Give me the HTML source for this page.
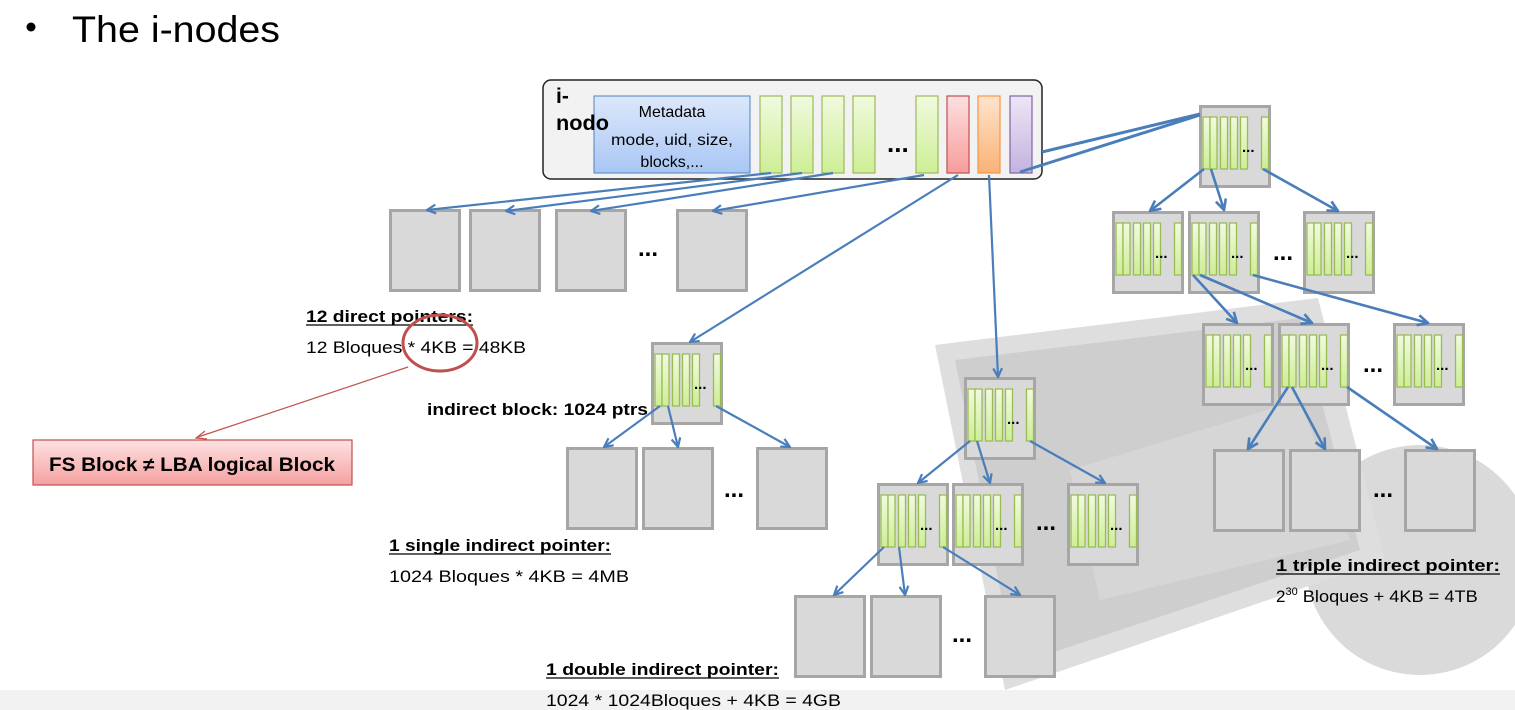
<!DOCTYPE html>
<html><head><meta charset="utf-8"><style>
html,body{margin:0;padding:0;background:#fff;}
svg{display:block;}
text{font-family:"Liberation Sans",sans-serif;}
</style></head><body>
<svg width="1515" height="710" viewBox="0 0 1515 710" xmlns="http://www.w3.org/2000/svg">
<defs>
<linearGradient id="gg" x1="0" y1="0" x2="0" y2="1"><stop offset="0" stop-color="#f1fadf"/><stop offset="1" stop-color="#cdee95"/></linearGradient>
<linearGradient id="bg" x1="0" y1="0" x2="0" y2="1"><stop offset="0" stop-color="#dce8fb"/><stop offset="1" stop-color="#a9c6f5"/></linearGradient>
<linearGradient id="rg" x1="0" y1="0" x2="0" y2="1"><stop offset="0" stop-color="#fde0e0"/><stop offset="1" stop-color="#f79c9c"/></linearGradient>
<linearGradient id="og" x1="0" y1="0" x2="0" y2="1"><stop offset="0" stop-color="#fee4cc"/><stop offset="1" stop-color="#fab277"/></linearGradient>
<linearGradient id="pg" x1="0" y1="0" x2="0" y2="1"><stop offset="0" stop-color="#ede6f6"/><stop offset="1" stop-color="#c4b2df"/></linearGradient>
<linearGradient id="fs" x1="0" y1="0" x2="0" y2="1"><stop offset="0" stop-color="#fde2e2"/><stop offset="1" stop-color="#f5a0a0"/></linearGradient>
<marker id="ar" viewBox="0 0 10 10" refX="9" refY="5" markerWidth="5" markerHeight="5" orient="auto" markerUnits="strokeWidth">
<path d="M1,1 L9,5 L1,9" fill="none" stroke="#4a7ebb" stroke-width="2"/></marker>
<symbol id="pb" viewBox="0 0 72 83" width="72" height="83" overflow="visible">
<rect x="1.5" y="1.5" width="69" height="80" fill="#d9d9d9" stroke="#a6a6a6" stroke-width="3"/>
<g fill="url(#gg)" stroke="#9bbb59" stroke-width="1.3">
<rect x="4" y="12" width="7" height="52"/><rect x="11" y="12" width="7" height="52"/><rect x="21.5" y="12" width="7" height="52"/><rect x="31.5" y="12" width="7" height="52"/><rect x="41.5" y="12" width="7" height="52"/><rect x="62.5" y="12" width="7" height="52"/></g>
</symbol>
<symbol id="db" viewBox="0 0 72 83" width="72" height="83"><rect x="1.5" y="1.5" width="69" height="80" fill="#d9d9d9" stroke="#a6a6a6" stroke-width="3"/></symbol>
</defs>

<!-- background image approximation -->
<circle cx="1420" cy="560" r="115" fill="#dadada"/>
<polygon points="935,345 1318,298 1385,560 1005,690" fill="#dedede"/>
<polygon points="955,360 1300,318 1360,550 1015,665" fill="#cecece"/>
<polygon points="1070,470 1300,400 1350,540 1100,600" fill="#d6d6d6"/>
<rect x="0" y="690" width="1515" height="20" fill="#f2f2f2"/>

<!-- title -->
<circle cx="31" cy="27" r="4.5" fill="#000"/>
<text x="72" y="42" font-size="37" fill="#000" textLength="208" lengthAdjust="spacingAndGlyphs">The i-nodes</text>

<!-- inode -->
<rect x="543" y="80" width="499" height="99" rx="8" fill="#f2f2f2" stroke="#222" stroke-width="1.5"/>
<rect x="594" y="96" width="156" height="77" fill="url(#bg)" stroke="#4f81bd" stroke-width="1"/>
<text x="556" y="103" font-size="21" font-weight="bold">i-</text>
<text x="556" y="130" font-size="21" font-weight="bold" textLength="53" lengthAdjust="spacingAndGlyphs">nodo</text>
<text x="672" y="117" font-size="16" text-anchor="middle">Metadata</text>
<text x="672" y="145" font-size="16" text-anchor="middle" textLength="122" lengthAdjust="spacingAndGlyphs">mode, uid, size,</text>
<text x="672" y="167" font-size="16" text-anchor="middle">blocks,...</text>
<g fill="url(#gg)" stroke="#9bbb59" stroke-width="1.2">
<rect x="760" y="96" width="22" height="77"/><rect x="791" y="96" width="22" height="77"/><rect x="822" y="96" width="22" height="77"/><rect x="853" y="96" width="22" height="77"/><rect x="916" y="96" width="22" height="77"/></g>
<rect x="947" y="96" width="22" height="77" fill="url(#rg)" stroke="#c0504d" stroke-width="1.2"/>
<rect x="978" y="96" width="22" height="77" fill="url(#og)" stroke="#f79646" stroke-width="1.2"/>
<rect x="1010" y="96" width="22" height="77" fill="url(#pg)" stroke="#8064a2" stroke-width="1.2"/>
<text x="887" y="152" font-size="26" font-weight="bold">...</text>

<!-- direct blocks -->
<use href="#db" x="389" y="209"/><use href="#db" x="469" y="209"/><use href="#db" x="555" y="209"/><use href="#db" x="676" y="209"/>
<text x="638" y="256" font-size="24" font-weight="bold">...</text>

<!-- single -->
<use href="#pb" x="651" y="342"/><text x="694" y="389" font-size="15" font-weight="bold">...</text>
<use href="#db" x="566" y="447"/><use href="#db" x="642" y="447"/><use href="#db" x="756" y="447"/>
<text x="724" y="497" font-size="24" font-weight="bold">...</text>

<!-- double -->
<use href="#pb" x="964" y="377"/><text x="1007" y="424" font-size="15" font-weight="bold">...</text>
<use href="#pb" x="877" y="483"/><text x="920" y="530" font-size="15" font-weight="bold">...</text>
<use href="#pb" x="952" y="483"/><text x="995" y="530" font-size="15" font-weight="bold">...</text>
<use href="#pb" x="1067" y="483"/><text x="1110" y="530" font-size="15" font-weight="bold">...</text>
<text x="1036" y="530" font-size="24" font-weight="bold">...</text>
<use href="#db" x="794" y="595"/><use href="#db" x="870" y="595"/><use href="#db" x="984" y="595"/>
<text x="952" y="642" font-size="24" font-weight="bold">...</text>

<!-- triple -->
<use href="#pb" x="1199" y="105"/><text x="1242" y="152" font-size="15" font-weight="bold">...</text>
<use href="#pb" x="1112" y="211"/><text x="1155" y="258" font-size="15" font-weight="bold">...</text>
<use href="#pb" x="1188" y="211"/><text x="1231" y="258" font-size="15" font-weight="bold">...</text>
<use href="#pb" x="1303" y="211"/><text x="1346" y="258" font-size="15" font-weight="bold">...</text>
<text x="1273" y="260" font-size="24" font-weight="bold">...</text>
<use href="#pb" x="1202" y="323"/><text x="1245" y="370" font-size="15" font-weight="bold">...</text>
<use href="#pb" x="1278" y="323"/><text x="1321" y="370" font-size="15" font-weight="bold">...</text>
<use href="#pb" x="1393" y="323"/><text x="1436" y="370" font-size="15" font-weight="bold">...</text>
<text x="1363" y="372" font-size="24" font-weight="bold">...</text>
<use href="#db" x="1213" y="449"/><use href="#db" x="1289" y="449"/><use href="#db" x="1404" y="449"/>
<text x="1373" y="497" font-size="24" font-weight="bold">...</text>

<!-- arrows -->
<g stroke="#4a7ebb" stroke-width="2.2" fill="none" marker-end="url(#ar)">
<line x1="771" y1="173" x2="427" y2="210"/>
<line x1="802" y1="173" x2="506" y2="211"/>
<line x1="833" y1="173" x2="591" y2="211"/>
<line x1="924" y1="175" x2="713" y2="211"/>
<line x1="958" y1="175" x2="690" y2="342"/>
<line x1="989" y1="175" x2="998" y2="377"/>
<line x1="660" y1="406" x2="604" y2="447"/>
<line x1="668" y1="406" x2="678" y2="447"/>
<line x1="716" y1="406" x2="790" y2="447"/>
<line x1="970" y1="441" x2="918" y2="483"/>
<line x1="977" y1="441" x2="990" y2="483"/>
<line x1="1030" y1="441" x2="1105" y2="483"/>
<line x1="884" y1="547" x2="834" y2="595"/>
<line x1="899" y1="547" x2="905" y2="595"/>
<line x1="943" y1="547" x2="1020" y2="595"/>
</g>
<g stroke="#4a7ebb" stroke-width="3" fill="none">
<line x1="1020" y1="172" x2="1200" y2="115"/>
<line x1="1042" y1="152" x2="1200" y2="114"/>
</g>
<g stroke="#4a7ebb" stroke-width="2.6" fill="none" marker-end="url(#ar)">
<line x1="1204" y1="169" x2="1150" y2="211"/>
<line x1="1211" y1="169" x2="1224" y2="210"/>
<line x1="1263" y1="169" x2="1338" y2="211"/>
<line x1="1193" y1="275" x2="1237" y2="323"/>
<line x1="1200" y1="275" x2="1312" y2="323"/>
<line x1="1253" y1="275" x2="1428" y2="323"/>
<line x1="1288" y1="387" x2="1248" y2="449"/>
<line x1="1292" y1="387" x2="1325" y2="449"/>
<line x1="1347" y1="387" x2="1437" y2="449"/>
</g>

<!-- labels -->
<text x="306" y="322" font-size="17" font-weight="bold" textLength="167" lengthAdjust="spacingAndGlyphs">12 direct pointers:</text>
<line x1="306" y1="325" x2="473" y2="325" stroke="#000" stroke-width="1.2"/>
<text x="306" y="353" font-size="17" textLength="220" lengthAdjust="spacingAndGlyphs">12 Bloques * 4KB = 48KB</text>
<ellipse cx="440" cy="343" rx="37" ry="28" fill="none" stroke="#c0504d" stroke-width="3"/>
<line x1="408" y1="367" x2="198" y2="437" stroke="#c0504d" stroke-width="1.2"/>
<path d="M205,431 L196,438 L207,439" fill="none" stroke="#c0504d" stroke-width="1.2"/>
<rect x="33" y="440" width="319" height="45" fill="url(#fs)" stroke="#c0504d" stroke-width="1.2"/>
<text x="192" y="471" font-size="19" font-weight="bold" text-anchor="middle" textLength="286" lengthAdjust="spacingAndGlyphs">FS Block ≠ LBA logical Block</text>
<text x="427" y="415" font-size="17" font-weight="bold" textLength="221" lengthAdjust="spacingAndGlyphs">indirect block: 1024 ptrs</text>
<text x="389" y="551" font-size="17" font-weight="bold" textLength="222" lengthAdjust="spacingAndGlyphs">1 single indirect pointer:</text>
<line x1="389" y1="554" x2="611" y2="554" stroke="#000" stroke-width="1.2"/>
<text x="389" y="582" font-size="17" textLength="240" lengthAdjust="spacingAndGlyphs">1024 Bloques * 4KB = 4MB</text>
<text x="546" y="675" font-size="17" font-weight="bold" textLength="233" lengthAdjust="spacingAndGlyphs">1 double indirect pointer:</text>
<line x1="546" y1="678" x2="779" y2="678" stroke="#000" stroke-width="1.2"/>
<text x="546" y="706" font-size="17" textLength="295" lengthAdjust="spacingAndGlyphs">1024 * 1024Bloques + 4KB = 4GB</text>
<text x="1276" y="571" font-size="17" font-weight="bold" textLength="224" lengthAdjust="spacingAndGlyphs">1 triple  indirect pointer:</text>
<line x1="1276" y1="574" x2="1500" y2="574" stroke="#000" stroke-width="1.2"/>
<text x="1276" y="602" font-size="17">2<tspan font-size="11" dy="-7">30</tspan><tspan dy="7" textLength="180" lengthAdjust="spacingAndGlyphs"> Bloques + 4KB = 4TB</tspan></text>
</svg>
</body></html>
